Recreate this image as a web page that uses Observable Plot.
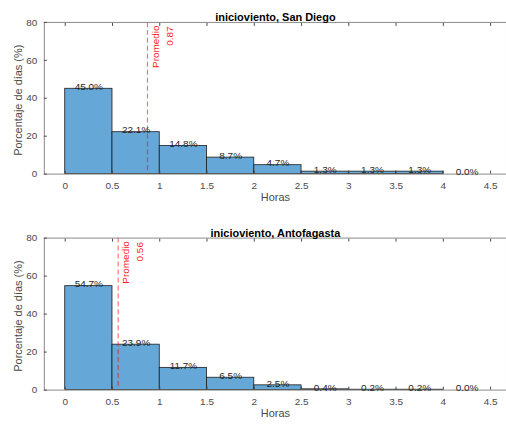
<!DOCTYPE html>
<html>
<head>
<meta charset="utf-8">
<script src="https://cdn.jsdelivr.net/npm/d3@7"></script>
<script src="https://cdn.jsdelivr.net/npm/@observablehq/plot@0.6"></script>
<style>
  html, body { margin: 0; padding: 0; background: #fff; overflow: hidden; }
  #chart > svg { display: block; }
</style>
</head>
<body>
<div id="chart"></div>
<script>
// ---- data ----
const binStarts = [0, 0.5, 1, 1.5, 2, 2.5, 3, 3.5, 4];
const binWidth = 0.5;
const pctSanDiego = [45.0, 22.1, 14.8, 8.7, 4.7, 1.3, 1.3, 1.3, 0.0];
const pctAntofagasta = [54.7, 23.9, 11.7, 6.5, 2.5, 0.4, 0.2, 0.2, 0.0];
const meanSanDiego = 0.87;
const meanAntofagasta = 0.56;
const titles = ["inicioviento, San Diego", "inicioviento, Antofagasta"];
const xTicks = [0, 0.5, 1, 1.5, 2, 2.5, 3, 3.5, 4, 4.5];
const yTicks = [0, 20, 40, 60, 80];
const xLabel = "Horas";
const yLabel = "Porcentaje de días (%)";
const meanLabel = "Promedio";

const panels = [
  {title: titles[0], pct: pctSanDiego, mean: meanSanDiego, marginTop: 22, marginBottom: 37.7, titleDy: -9},
  {title: titles[1], pct: pctAntofagasta, mean: meanAntofagasta, marginTop: 26.7, marginBottom: 32.7, titleDy: -9}
];

const font = "'Liberation Sans', Arial, Helvetica, sans-serif";
const axisColor = "#8a8a8a";

function panel(p) {
  const rows = binStarts.map((x, i) => ({x1: x, x2: x + binWidth, xm: x + binWidth / 2, v: p.pct[i]}));
  return Plot.plot({
    width: 508,
    height: 212,
    marginLeft: 44,
    marginRight: 0,
    marginTop: p.marginTop,
    marginBottom: p.marginBottom,
    style: {fontFamily: font, fontSize: "10px", color: "#4a4a4a", background: "#fff"},
    x: {domain: [-0.221, 4.668], ticks: xTicks, label: null},
    y: {domain: [yTicks[0], yTicks[yTicks.length - 1]], ticks: yTicks, label: null},
    marks: [
      Plot.rectY(rows.filter(d => d.v > 0), {x1: "x1", x2: "x2", y1: 0, y2: "v", fill: "#65a8d7", stroke: "#1c1c1c", strokeWidth: 0.8, inset: 0}),
      Plot.ruleX([p.mean], {stroke: "#ff0000", strokeOpacity: 0.55, strokeWidth: 1.2, strokeDasharray: "5,3"}),
      Plot.frame({stroke: axisColor}),
      Plot.axisX({anchor: "bottom", ticks: xTicks, tickSize: -3, tickPadding: 11, tickFormat: d => String(d), label: null, fontSize: 10}),
      Plot.axisX({anchor: "top", ticks: xTicks, tickSize: -3, tickFormat: () => "", label: null}),
      Plot.axisY({anchor: "left", ticks: yTicks, tickSize: -3, tickPadding: 10, tickFormat: d => String(d), label: null, fontSize: 10}),
      Plot.text([meanLabel], {x: p.mean, frameAnchor: "top", rotate: -90, textAnchor: "end", lineAnchor: "middle", dx: 8, dy: 3, fill: "#ff1a1a", fontSize: 10}),
      Plot.text([p.mean.toFixed(2)], {x: p.mean, frameAnchor: "top", rotate: -90, textAnchor: "end", lineAnchor: "middle", dx: 22, dy: 4, fill: "#ff1a1a", fontSize: 10}),
      Plot.text(rows, {x: "xm", y: "v", text: d => d.v.toFixed(1) + "%", lineAnchor: "middle", dy: -2, fill: "#1f1f1f", fontSize: 10}),
      Plot.text([p.title], {frameAnchor: "top", dy: p.titleDy, fontWeight: "bold", fontSize: 11, fill: "#000"}),
      Plot.text([xLabel], {frameAnchor: "bottom", dy: 27, fontSize: 11, fill: "#4a4a4a"}),
      Plot.text([yLabel], {frameAnchor: "left", rotate: -90, textAnchor: "middle", dx: -26, dy: 2, fontSize: 11, fill: "#4a4a4a"})
    ]
  });
}

const root = document.getElementById("chart");
panels.forEach(p => root.appendChild(panel(p)));
</script>
</body>
</html>
